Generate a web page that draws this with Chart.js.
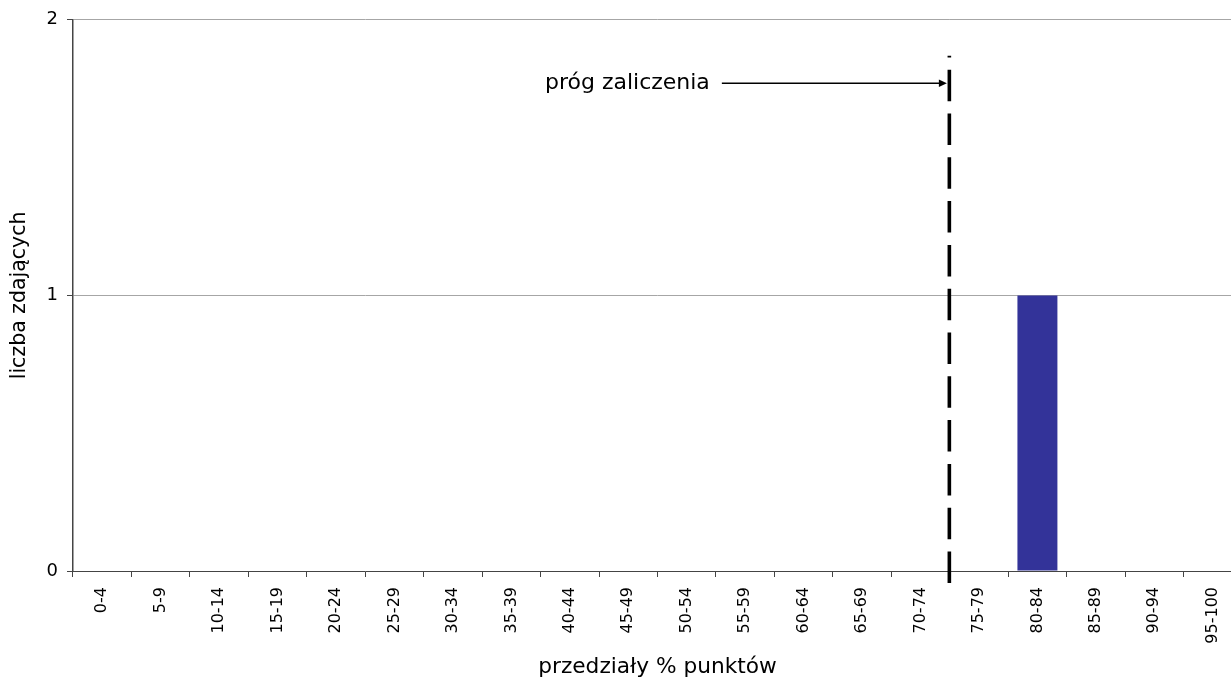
<!DOCTYPE html>
<html>
<head>
<meta charset="utf-8">
<script src="https://cdn.jsdelivr.net/npm/chart.js@4.4.1/dist/chart.umd.min.js"></script>
<style>
  html, body { margin: 0; padding: 0; background: #fff; }
  #wrap { width: 1231px; height: 680px; overflow: hidden; position: relative; }
  canvas { display: block; }
</style>
</head>
<body>
<div id="wrap"><canvas id="c" width="1250" height="680"></canvas></div>
<script>
// ---- data ----
const categories = ['0-4','5-9','10-14','15-19','20-24','25-29','30-34','35-39','40-44','45-49',
                    '50-54','55-59','60-64','65-69','70-74','75-79','80-84','85-89','90-94','95-100'];
const counts = [0,0,0,0,0,0,0,0,0,0,0,0,0,0,0,0,1,0,0,0];
const yTicks = [0, 1, 2];
const thresholdLabel = 'próg zaliczenia';
const thresholdPosition = 14.5;   // boundary between 70-74 and 75-79
const thresholdArrowValue = 1.77; // y-level of the arrow
const thresholdTopValue = 1.87;   // top of the dashed line
const xTitle = 'przedziały % punktów';
const yTitle = 'liczba zdających';

const FONT = '"DejaVu Sans", Verdana, sans-serif';

const thresholdPlugin = {
  id: 'threshold',
  afterDatasetsDraw(chart) {
    const { ctx } = chart;
    const xs = chart.scales.x, ys = chart.scales.y;
    const x = xs.getPixelForValue(thresholdPosition) - 0.4;
    const yTop = ys.getPixelForValue(thresholdTopValue);
    const yBottom = ys.getPixelForValue(0) + 12;
    const yArrow = ys.getPixelForValue(thresholdArrowValue);
    ctx.save();
    ctx.strokeStyle = '#000';
    ctx.lineWidth = 3.6;
    ctx.setLineDash([31.5, 12.3]);
    ctx.beginPath();
    ctx.moveTo(x, yBottom);
    ctx.lineTo(x, yTop);
    ctx.stroke();
    ctx.setLineDash([]);
    const xStart = x - 227.5;
    const tip = x - 2.5;
    ctx.lineWidth = 1.5;
    ctx.beginPath();
    ctx.moveTo(xStart, yArrow);
    ctx.lineTo(tip - 6, yArrow);
    ctx.stroke();
    ctx.fillStyle = '#000';
    ctx.beginPath();
    ctx.moveTo(tip, yArrow);
    ctx.lineTo(tip - 8, yArrow - 3.8);
    ctx.lineTo(tip - 8, yArrow + 3.8);
    ctx.closePath();
    ctx.fill();
    ctx.font = '22px ' + FONT;
    ctx.textAlign = 'right';
    ctx.textBaseline = 'middle';
    ctx.fillText(thresholdLabel, xStart - 12, yArrow);
    ctx.restore();
  }
};

new Chart(document.getElementById('c'), {
  type: 'bar',
  data: {
    labels: categories,
    datasets: [{
      data: counts,
      backgroundColor: '#333399',
      borderWidth: 0,
      categoryPercentage: 1.0,
      barPercentage: 0.684
    }]
  },
  options: {
    responsive: false,
    animation: false,
    events: [],
    layout: { padding: { top: 19, right: 8, left: 0, bottom: 0 } },
    plugins: { legend: { display: false }, tooltip: { enabled: false } },
    scales: {
      x: {
        offset: true,
        grid: { offset: true, drawOnChartArea: false, tickLength: 6, tickColor: '#444', color: '#444' },
        border: { color: '#444', width: 1 },
        ticks: {
          autoSkip: false, minRotation: 90, maxRotation: 90, padding: 10,
          color: '#000', font: { family: FONT, size: 16 }
        },
        title: { display: true, text: xTitle, color: '#000', font: { family: FONT, size: 21.7 }, padding: { top: 0, bottom: 0 } },
        afterFit(scale) { scale.height = 109; }
      },
      y: {
        min: 0, max: 2,
        afterBuildTicks(scale) { scale.ticks = yTicks.map(v => ({ value: v })); },
        grid: { color: '#a6a6a6', lineWidth: 1, tickLength: 6, tickColor: '#444', drawTicks: true },
        border: { color: '#444', width: 1.5 },
        ticks: { padding: 9, color: '#000', font: { family: FONT, size: 18 } },
        title: { display: true, text: yTitle, color: '#000', font: { family: FONT, size: 20.5 }, padding: { top: 7, bottom: 0 } },
        afterFit(scale) { scale.width = 73; }
      }
    }
  },
  plugins: [thresholdPlugin]
});
</script>
</body>
</html>
